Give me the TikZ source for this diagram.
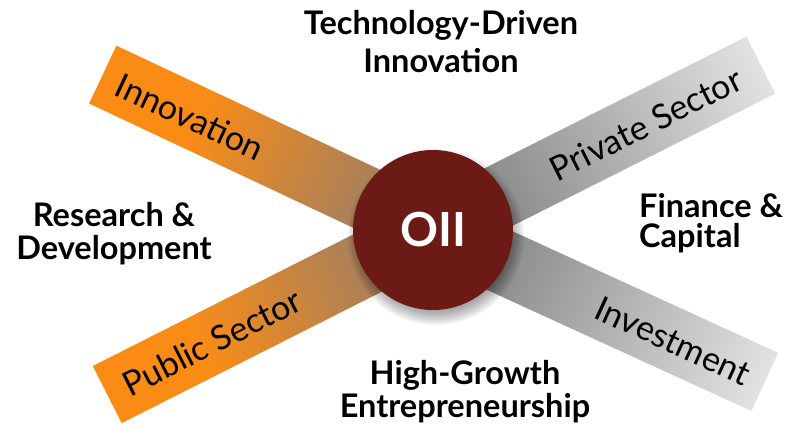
\documentclass[tikz,border=0pt]{standalone}
\usepackage{fontspec}
\setmainfont{Lato}
\definecolor{orangec}{RGB}{250,140,22}
\definecolor{tanc}{RGB}{160,128,100}
\definecolor{tanc2}{RGB}{168,128,92}
\definecolor{grayin}{RGB}{140,140,140}
\definecolor{grayout}{RGB}{226,226,226}
\definecolor{oiired}{RGB}{107,26,22}
\pgfdeclarehorizontalshading{orangebar}{100bp}{color(0bp)=(tanc); color(25bp)=(tanc); color(35bp)=(tanc2); color(61bp)=(orangec); color(100bp)=(orangec)}
\pgfdeclarehorizontalshading{graybar}{100bp}{color(0bp)=(grayin); color(25bp)=(grayin); color(35bp)=(grayin); color(75bp)=(grayout); color(100bp)=(grayout)}
\tikzset{
  headtext/.style={font=\fontsize{32.5}{38}\selectfont\bfseries, anchor=base, inner sep=0pt},
  bartext/.style={font=\fontsize{34}{40}\selectfont, inner sep=0pt, text=black},
}
\begin{document}
\begin{tikzpicture}[x=1pt,y=1pt]
\useasboundingbox (0,0) rectangle (788,-430);
% bars
\begin{scope}[transform canvas={shift={(433pt,-230pt)}, rotate=154.8}]
  \shade[shading=orangebar] (0,-32) rectangle (365,32);
\end{scope}
\begin{scope}[transform canvas={shift={(433pt,-230pt)}, rotate=206.8}]
  \shade[shading=orangebar] (0,-32) rectangle (365,32);
\end{scope}
\begin{scope}[transform canvas={shift={(433pt,-230pt)}, rotate=26.7}]
  \shade[shading=graybar] (0,-32) rectangle (367,32);
\end{scope}
\begin{scope}[transform canvas={shift={(433pt,-230pt)}, rotate=-24.6}]
  \shade[shading=graybar] (0,-32) rectangle (365,32);
\end{scope}
% shadow
\foreach \k in {0,...,11}
  \fill[black, opacity=0.035] (436,-237) circle ({74+\k*1.3});
% circle
\node[circle, fill=oiired, minimum size=160pt, inner sep=0pt, text=white,
      font=\fontsize{47}{50}\selectfont\bfseries] (oii) at (433,-230) {OII};
% bar labels
\node[bartext, rotate=-25] (inno) at (190,-117) {Innovation};
\node[bartext, rotate=26.7] (priv) at (646,-124) {Private Sector};
\node[bartext, rotate=26.8] (pub) at (212,-342) {Public Sector};
\node[bartext, rotate=-24.6] (inv) at (673,-341) {Investment};
% outer labels
\node[headtext] (tech1) at (441,-35) {Technology-Driven};
\node[headtext] (tech2) at (441,-73) {Innovation};
\node[headtext] (rd1) at (114,-227) {Research \&};
\node[headtext] (rd2) at (114,-260) {Development};
\node[headtext, anchor=base west] (fin1) at (639,-218) {Finance \&};
\node[headtext, anchor=base west] (fin2) at (639,-248) {Capital};
\node[headtext] (hg1) at (465,-385) {High-Growth};
\node[headtext] (hg2) at (465,-418) {Entrepreneurship};
\end{tikzpicture}
\end{document}
